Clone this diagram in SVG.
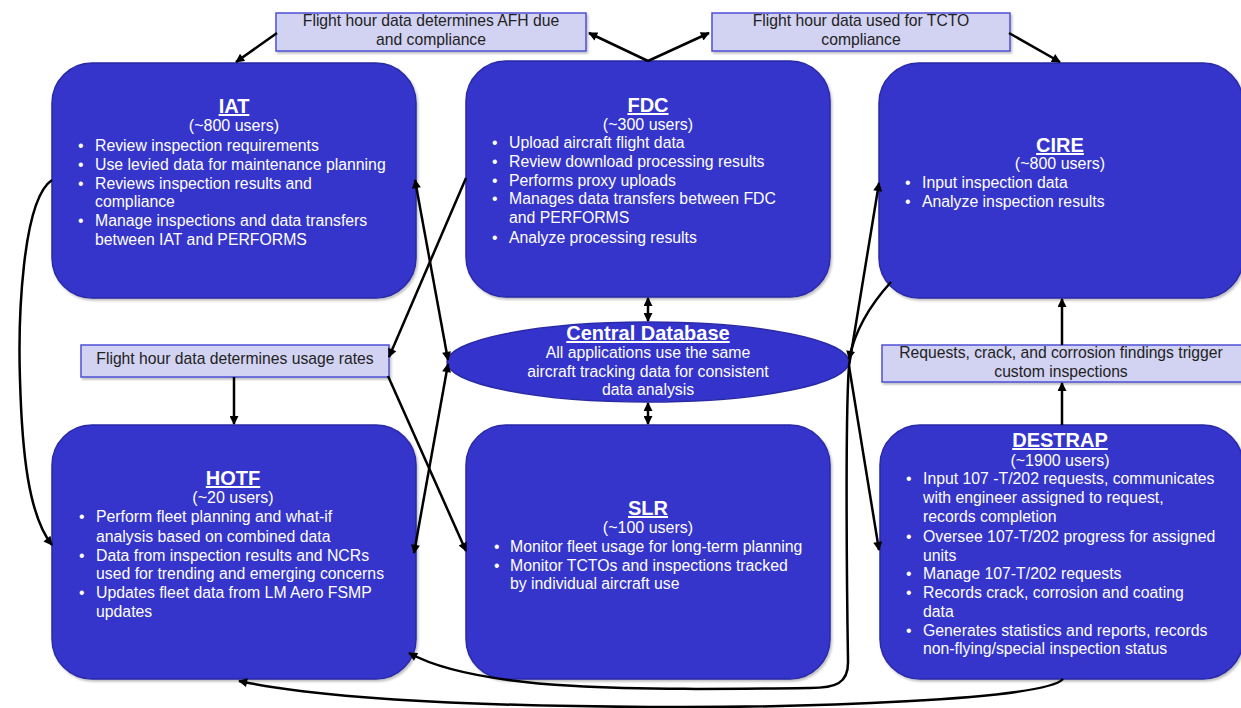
<svg xmlns="http://www.w3.org/2000/svg" width="1241" height="708" viewBox="0 0 1241 708">
<defs>
<style>
.box{fill:#3434cc;stroke:#2a2aa6;stroke-width:1.5;filter:url(#sh)}
.lbl{fill:#d2d2f2;stroke:#4f4fd6;stroke-width:1.5;filter:url(#sh)}
.t{font-family:"Liberation Sans",Arial,sans-serif;fill:#fff;font-size:15.8px}
.ttl{font-family:"Liberation Sans",Arial,sans-serif;fill:#fff;font-size:20px;font-weight:bold;text-anchor:middle;text-decoration:underline}
.u{font-family:"Liberation Sans",Arial,sans-serif;fill:#fff;font-size:16px;text-anchor:middle}
.c{text-anchor:middle}
.lt{font-family:"Liberation Sans",Arial,sans-serif;fill:#222;font-size:15.7px;text-anchor:middle}
.con path{fill:none;stroke:#000;stroke-width:2.5}
</style>
<filter id="sh" x="-5%" y="-5%" width="110%" height="115%">
<feDropShadow dx="1.5" dy="2" stdDeviation="1.2" flood-color="#000" flood-opacity="0.25"/>
</filter>
<marker id="a" viewBox="0 0 10 10" refX="9" refY="5" markerWidth="11" markerHeight="9" markerUnits="userSpaceOnUse" orient="auto-start-reverse">
<path d="M0,0 L10,5 L0,10 z" fill="#000"/>
</marker>
</defs>

<g id="label-afh">
<rect class="lbl" x="276" y="13" width="310" height="38"/>
<text class="lt" x="431" y="26">Flight hour data determines AFH due</text>
<text class="lt" x="431" y="45">and compliance</text>
</g>
<g id="label-tcto">
<rect class="lbl" x="712" y="13" width="298" height="38"/>
<text class="lt" x="861" y="26">Flight hour data used for TCTO</text>
<text class="lt" x="861" y="45">compliance</text>
</g>
<g id="label-usage">
<rect class="lbl" x="81" y="345" width="308" height="32"/>
<text class="lt" x="235" y="364">Flight hour data determines usage rates</text>
</g>
<g id="label-requests">
<rect class="lbl" x="882" y="345" width="362" height="37"/>
<text class="lt" x="1061" y="358">Requests, crack, and corrosion findings trigger</text>
<text class="lt" x="1061" y="377">custom inspections</text>
</g>

<g id="iat">
<rect class="box" x="52" y="63" width="364" height="235" rx="40"/>
<text class="ttl" x="234" y="113">IAT</text>
<text class="u" x="234" y="131">(~800 users)</text>
<text class="t"><tspan x="78" y="151">•</tspan><tspan x="95" y="151">Review inspection requirements</tspan>
<tspan x="78" y="170">•</tspan><tspan x="95" y="170">Use levied data for maintenance planning</tspan>
<tspan x="78" y="189">•</tspan><tspan x="95" y="189">Reviews inspection results and</tspan>
<tspan x="95" y="207">compliance</tspan>
<tspan x="78" y="226">•</tspan><tspan x="95" y="226">Manage inspections and data transfers</tspan>
<tspan x="95" y="245">between IAT and PERFORMS</tspan></text>
</g>

<g id="fdc">
<rect class="box" x="466" y="61" width="364" height="236" rx="40"/>
<text class="ttl" x="648" y="112">FDC</text>
<text class="u" x="648" y="130">(~300 users)</text>
<text class="t"><tspan x="492" y="148">•</tspan><tspan x="509" y="148">Upload aircraft flight data</tspan>
<tspan x="492" y="167">•</tspan><tspan x="509" y="167">Review download processing results</tspan>
<tspan x="492" y="186">•</tspan><tspan x="509" y="186">Performs proxy uploads</tspan>
<tspan x="492" y="204">•</tspan><tspan x="509" y="204">Manages data transfers between FDC</tspan>
<tspan x="509" y="223">and PERFORMS</tspan>
<tspan x="492" y="243">•</tspan><tspan x="509" y="243">Analyze processing results</tspan></text>
</g>

<g id="cire">
<rect class="box" x="879" y="63" width="364" height="235" rx="40"/>
<text class="ttl" x="1060" y="152">CIRE</text>
<text class="u" x="1060" y="169">(~800 users)</text>
<text class="t"><tspan x="905" y="188">•</tspan><tspan x="922" y="188">Input inspection data</tspan>
<tspan x="905" y="207">•</tspan><tspan x="922" y="207">Analyze inspection results</tspan></text>
</g>

<g id="central-database">
<ellipse cx="648" cy="362" rx="201" ry="40" fill="#3434cc" stroke="#2a2aa6" stroke-width="1.5"/>
<text class="ttl" x="648" y="340">Central Database</text>
<text class="t c" x="648" y="358">All applications use the same</text>
<text class="t c" x="648" y="377">aircraft tracking data for consistent</text>
<text class="t c" x="648" y="395">data analysis</text>
</g>

<g id="hotf">
<rect class="box" x="52" y="425" width="364" height="254" rx="40"/>
<text class="ttl" x="233" y="485">HOTF</text>
<text class="u" x="233" y="503">(~20 users)</text>
<text class="t"><tspan x="79" y="522">•</tspan><tspan x="96" y="522">Perform fleet planning and what-if</tspan>
<tspan x="96" y="542">analysis based on combined data</tspan>
<tspan x="79" y="561">•</tspan><tspan x="96" y="561">Data from inspection results and NCRs</tspan>
<tspan x="96" y="579">used for trending and emerging concerns</tspan>
<tspan x="79" y="598">•</tspan><tspan x="96" y="598">Updates fleet data from LM Aero FSMP</tspan>
<tspan x="96" y="617">updates</tspan></text>
</g>

<g id="slr">
<rect class="box" x="466" y="425" width="364" height="254" rx="40"/>
<text class="ttl" x="648" y="515">SLR</text>
<text class="u" x="648" y="533">(~100 users)</text>
<text class="t"><tspan x="494" y="552">•</tspan><tspan x="510" y="552">Monitor fleet usage for long-term planning</tspan>
<tspan x="494" y="571">•</tspan><tspan x="510" y="571">Monitor TCTOs and inspections tracked</tspan>
<tspan x="510" y="589">by individual aircraft use</tspan></text>
</g>

<g id="destrap">
<rect class="box" x="880" y="425" width="363" height="254" rx="40"/>
<text class="ttl" x="1060" y="447">DESTRAP</text>
<text class="u" x="1060" y="466">(~1900 users)</text>
<text class="t"><tspan x="906" y="484">•</tspan><tspan x="923" y="484">Input 107 -T/202 requests, communicates</tspan>
<tspan x="923" y="503">with engineer assigned to request,</tspan>
<tspan x="923" y="522">records completion</tspan>
<tspan x="906" y="542">•</tspan><tspan x="923" y="542">Oversee 107-T/202 progress for assigned</tspan>
<tspan x="923" y="561">units</tspan>
<tspan x="906" y="579">•</tspan><tspan x="923" y="579">Manage 107-T/202 requests</tspan>
<tspan x="906" y="598">•</tspan><tspan x="923" y="598">Records crack, corrosion and coating</tspan>
<tspan x="923" y="617">data</tspan>
<tspan x="906" y="636">•</tspan><tspan x="923" y="636">Generates statistics and reports, records</tspan>
<tspan x="923" y="654">non-flying/special inspection status</tspan></text>
</g>

<g id="connectors" class="con">
<path d="M648,61 L589,33" marker-end="url(#a)"/>
<path d="M648,61 L709,33" marker-end="url(#a)"/>
<path d="M277,33 L236,62" marker-end="url(#a)"/>
<path d="M1009,33 L1060,62" marker-end="url(#a)"/>
<path d="M52,180 C22,200 18,320 20,380 C22,450 28,515 52,545" marker-end="url(#a)"/>
<path d="M415,180 L448,360" marker-start="url(#a)" marker-end="url(#a)"/>
<path d="M466,178 L389,357" marker-end="url(#a)"/>
<path d="M388,376 L466,551" marker-end="url(#a)"/>
<path d="M448,364 L414,553" marker-start="url(#a)" marker-end="url(#a)"/>
<path d="M234,377 L234,424" marker-end="url(#a)"/>
<path d="M648,298 L648,321" marker-start="url(#a)" marker-end="url(#a)"/>
<path d="M648,403 L648,424" marker-start="url(#a)" marker-end="url(#a)"/>
<path d="M849,366 L879,183" marker-end="url(#a)"/>
<path d="M891,282 C870,305 855,330 849,359" marker-end="url(#a)"/>
<path d="M849,366 L879,550" marker-end="url(#a)"/>
<path d="M849,366 C845,420 847,600 848,660 C849,684 835,688 810,688 C640,690 480,692 409,653" marker-end="url(#a)"/>
<path d="M1062,425 L1062,383" marker-end="url(#a)"/>
<path d="M1062,345 L1062,299" marker-end="url(#a)"/>
<path d="M1063,679 C1045,700 800,708 650,707 C470,706 320,698 239,681" marker-end="url(#a)"/>
</g>
</svg>
